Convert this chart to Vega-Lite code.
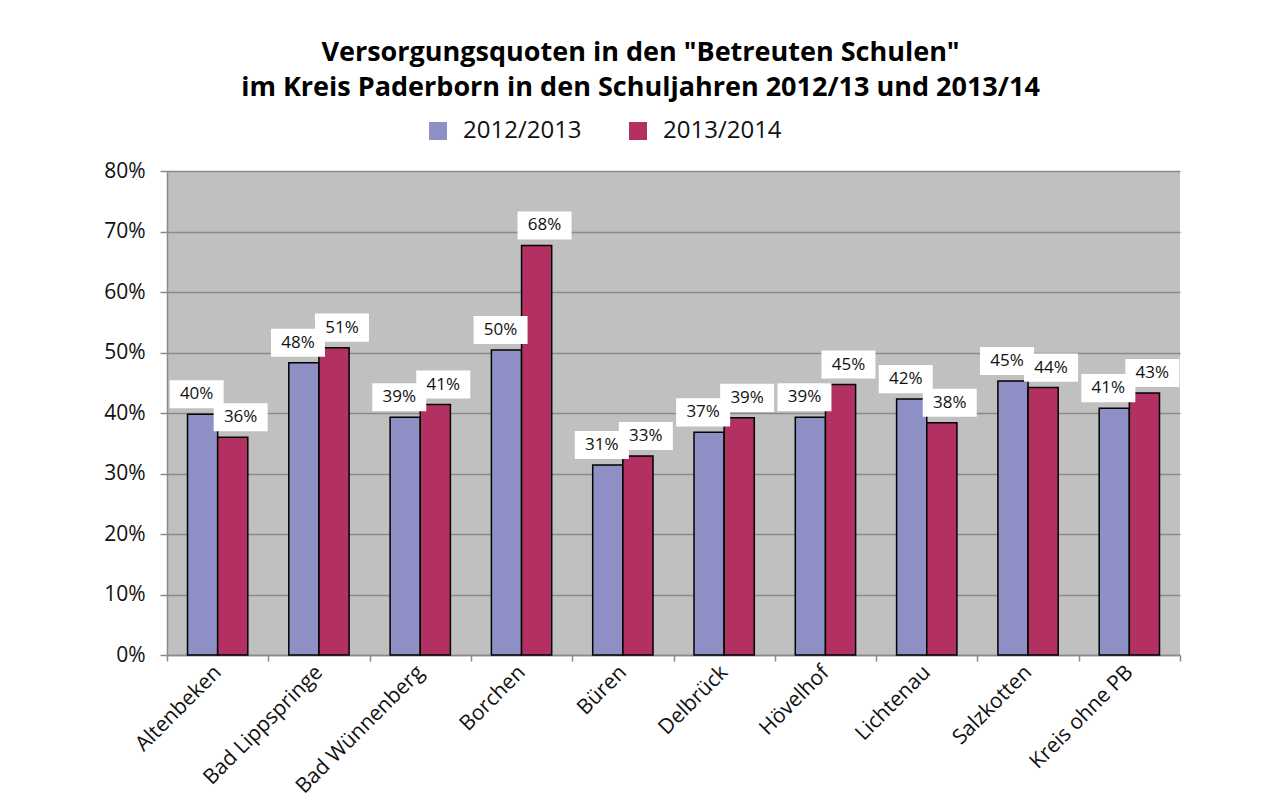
{
  "$schema": "https://vega.github.io/schema/vega-lite/v6.json",
  "width": 1013,
  "height": 484,
  "autosize": {"type": "none"},
  "padding": {"left": 167, "top": 171, "right": 100, "bottom": 157},
  "background": "white",
  "title": {
    "text": ["Versorgungsquoten in den \"Betreuten Schulen\"", "im Kreis Paderborn in den Schuljahren 2012/13 und 2013/14"],
    "font": "Open Sans",
    "fontSize": 27,
    "fontWeight": "bold",
    "color": "#000000",
    "anchor": "middle",
    "dx": -33,
    "offset": 17,
    "lineHeight": 35
  },
  "data": {
    "values": [
      {"Gemeinde": "Altenbeken", "Jahr": "2012/2013", "Quote": 0.398},
      {"Gemeinde": "Altenbeken", "Jahr": "2013/2014", "Quote": 0.360},
      {"Gemeinde": "Bad Lippspringe", "Jahr": "2012/2013", "Quote": 0.483},
      {"Gemeinde": "Bad Lippspringe", "Jahr": "2013/2014", "Quote": 0.508},
      {"Gemeinde": "Bad Wünnenberg", "Jahr": "2012/2013", "Quote": 0.393},
      {"Gemeinde": "Bad Wünnenberg", "Jahr": "2013/2014", "Quote": 0.414},
      {"Gemeinde": "Borchen", "Jahr": "2012/2013", "Quote": 0.504},
      {"Gemeinde": "Borchen", "Jahr": "2013/2014", "Quote": 0.677},
      {"Gemeinde": "Büren", "Jahr": "2012/2013", "Quote": 0.314},
      {"Gemeinde": "Büren", "Jahr": "2013/2014", "Quote": 0.329},
      {"Gemeinde": "Delbrück", "Jahr": "2012/2013", "Quote": 0.368},
      {"Gemeinde": "Delbrück", "Jahr": "2013/2014", "Quote": 0.392},
      {"Gemeinde": "Hövelhof", "Jahr": "2012/2013", "Quote": 0.393},
      {"Gemeinde": "Hövelhof", "Jahr": "2013/2014", "Quote": 0.447},
      {"Gemeinde": "Lichtenau", "Jahr": "2012/2013", "Quote": 0.423},
      {"Gemeinde": "Lichtenau", "Jahr": "2013/2014", "Quote": 0.384},
      {"Gemeinde": "Salzkotten", "Jahr": "2012/2013", "Quote": 0.453},
      {"Gemeinde": "Salzkotten", "Jahr": "2013/2014", "Quote": 0.442},
      {"Gemeinde": "Kreis ohne PB", "Jahr": "2012/2013", "Quote": 0.408},
      {"Gemeinde": "Kreis ohne PB", "Jahr": "2013/2014", "Quote": 0.433}
    ]
  },
  "encoding": {
    "x": {
      "field": "Gemeinde",
      "type": "nominal",
      "sort": null,
      "scale": {"paddingInner": 0, "paddingOuter": 0},
      "axis": {
        "title": null,
        "labelAngle": -45,
        "labelAlign": "right",
        "labelBaseline": "middle",
        "labelFont": "Open Sans",
        "labelFontSize": 21,
        "labelColor": "#111111",
        "labelPadding": 8,
        "tickBand": "extent",
        "tickColor": "#8a8a8a",
        "tickSize": 6,
        "tickWidth": 1.5,
        "domainColor": "#8a8a8a",
        "domainWidth": 1.5,
        "grid": false
      }
    },
    "y": {
      "field": "Quote",
      "type": "quantitative",
      "scale": {"domain": [0, 0.8]},
      "axis": {
        "title": null,
        "format": ".0%",
        "values": [0, 0.1, 0.2, 0.3, 0.4, 0.5, 0.6, 0.7, 0.8],
        "labelFont": "Open Sans",
        "labelFontSize": 21,
        "labelColor": "#111111",
        "labelPadding": 15,
        "tickColor": "#8a8a8a",
        "tickSize": 7,
        "tickWidth": 1.5,
        "domainColor": "#8a8a8a",
        "domainWidth": 1.5,
        "grid": true,
        "gridColor": "#8a8a8a",
        "gridWidth": 1.5
      }
    }
  },
  "layer": [
    {
      "mark": {"type": "bar", "stroke": "#000000", "strokeWidth": 1.5},
      "encoding": {
        "xOffset": {"field": "Jahr", "type": "nominal", "scale": {"paddingInner": 0, "paddingOuter": 0.68}},
        "color": {
          "field": "Jahr",
          "type": "nominal",
          "scale": {"domain": ["2012/2013", "2013/2014"], "range": ["#8e8fc4", "#b33063"]},
          "legend": {
            "title": null,
            "orient": "none",
            "direction": "horizontal",
            "legendX": 259,
            "legendY": -52,
            "symbolType": "square",
            "symbolSize": 324,
            "symbolStrokeWidth": 0,
            "labelFont": "Open Sans",
            "labelFontSize": 24,
            "labelColor": "#111111",
            "labelOffset": 13,
            "columnPadding": 44
          }
        }
      }
    },
    {
      "transform": [{"filter": "datum.Jahr == '2012/2013'"}],
      "mark": {"type": "point", "shape": "M-1,-0.52H1V0.52H-1Z", "size": 2916, "filled": true, "color": "#ffffff", "opacity": 1, "xOffset": -21, "yOffset": -20}
    },
    {
      "transform": [{"filter": "datum.Jahr == '2012/2013'"}],
      "mark": {"type": "text", "font": "Open Sans", "fontSize": 17, "color": "#111111", "xOffset": -21, "yOffset": -20, "baseline": "middle"},
      "encoding": {"text": {"field": "Quote", "format": ".0%"}}
    },
    {
      "transform": [{"filter": "datum.Jahr == '2013/2014'"}],
      "mark": {"type": "point", "shape": "M-1,-0.52H1V0.52H-1Z", "size": 2916, "filled": true, "color": "#ffffff", "opacity": 1, "xOffset": 23, "yOffset": -20}
    },
    {
      "transform": [{"filter": "datum.Jahr == '2013/2014'"}],
      "mark": {"type": "text", "font": "Open Sans", "fontSize": 17, "color": "#111111", "xOffset": 23, "yOffset": -20, "baseline": "middle"},
      "encoding": {"text": {"field": "Quote", "format": ".0%"}}
    }
  ],
  "config": {
    "view": {"fill": "#c0c0c0", "stroke": null}
  }
}
